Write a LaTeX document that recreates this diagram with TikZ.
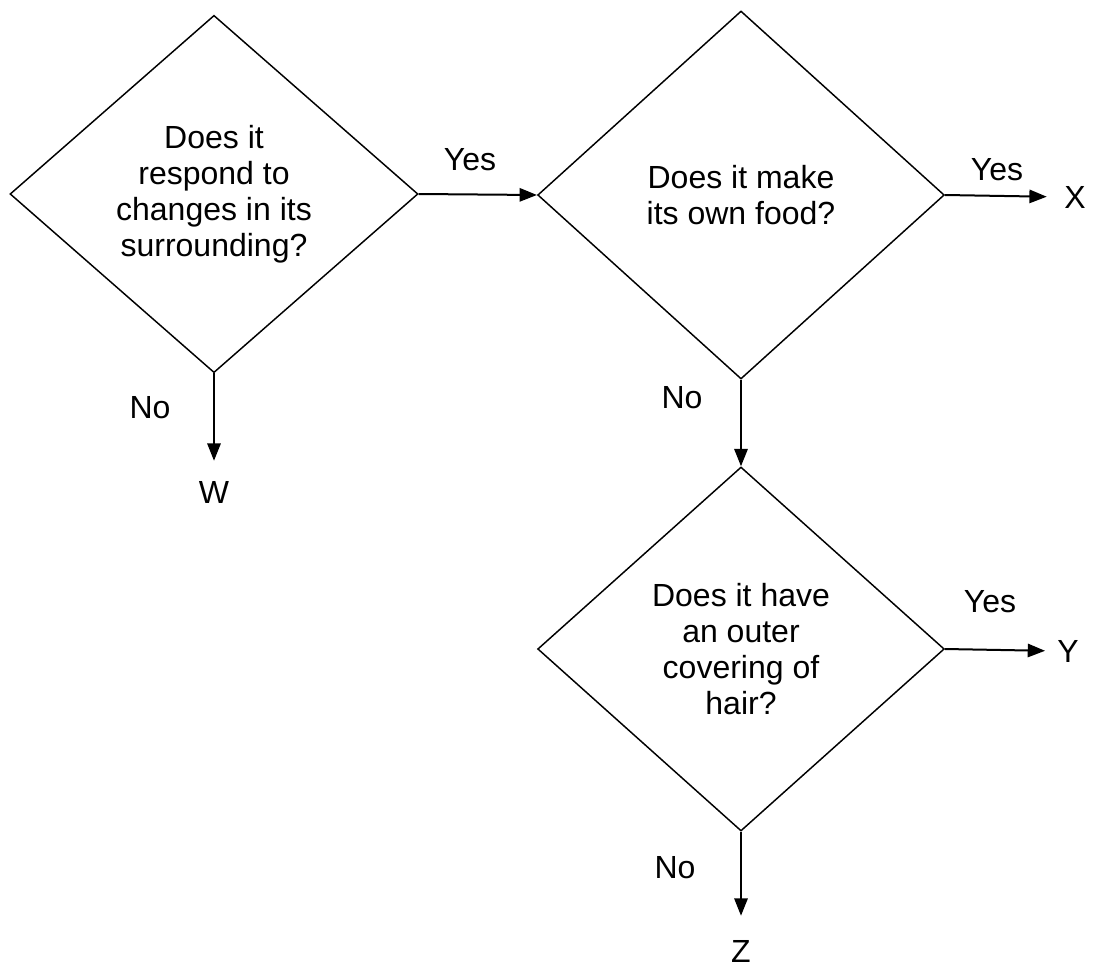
\documentclass[tikz,border=0pt]{standalone}
\usepackage{fontspec}
\setmainfont{Liberation Sans}
\usetikzlibrary{shapes.geometric,arrows.meta}

\begin{document}
\begin{tikzpicture}[x=0.75pt,y=0.75pt,yscale=-1,xscale=1,
	question/.style={draw, diamond, inner sep=0pt, align=center, line width=1.1pt, font=\fontsize{24}{27}\selectfont},
	answer/.style={inner sep=0pt, font=\fontsize{24}{27}\selectfont},
	flow/.style={line width=1.5pt, -{Triangle[length=13pt,width=10pt]}}]
		\useasboundingbox (0,0) rectangle (1093,967);

		% the three questions
		\node [question, minimum width=306pt, minimum height=268pt] (q1) at (214,194) {Does it\\respond to\\changes in its\\surrounding?};
		\node [question, minimum width=305pt, minimum height=276pt] (q2) at (741,195) {Does it make\\its own food?};
		\node [question, minimum width=305pt, minimum height=273pt] (q3) at (741,649) {Does it have\\an outer\\covering of\\hair?};

		% end points
		\node [answer] (w) at (214,492) {W};
		\node [answer] (x) at (1075,197) {X};
		\node [answer] (y) at (1068,651) {Y};
		\node [answer] (z) at (741,951) {Z};

		\draw [flow] (q1.east) -- (q2.west);
		\draw [flow, shorten >=15pt] (q1.south) -- (w.north);
		\draw [flow, shorten >=13pt] (q2.east) -- (x.west);
		\draw [flow] (q2.south) -- (q3.north);
		\draw [flow, shorten >=9pt] (q3.east) -- (y.west);
		\draw [flow, shorten >=18pt] (q3.south) -- (z.north);

		% yes / no labels
		\node [answer] (yes1) at (470,160) {Yes};
		\node [answer] (no1) at (150,408) {No};
		\node [answer] (yes2) at (997,170) {Yes};
		\node [answer] (no2) at (682,398) {No};
		\node [answer] (yes3) at (990,602) {Yes};
		\node [answer] (no3) at (675,868) {No};
\end{tikzpicture}
\end{document}
